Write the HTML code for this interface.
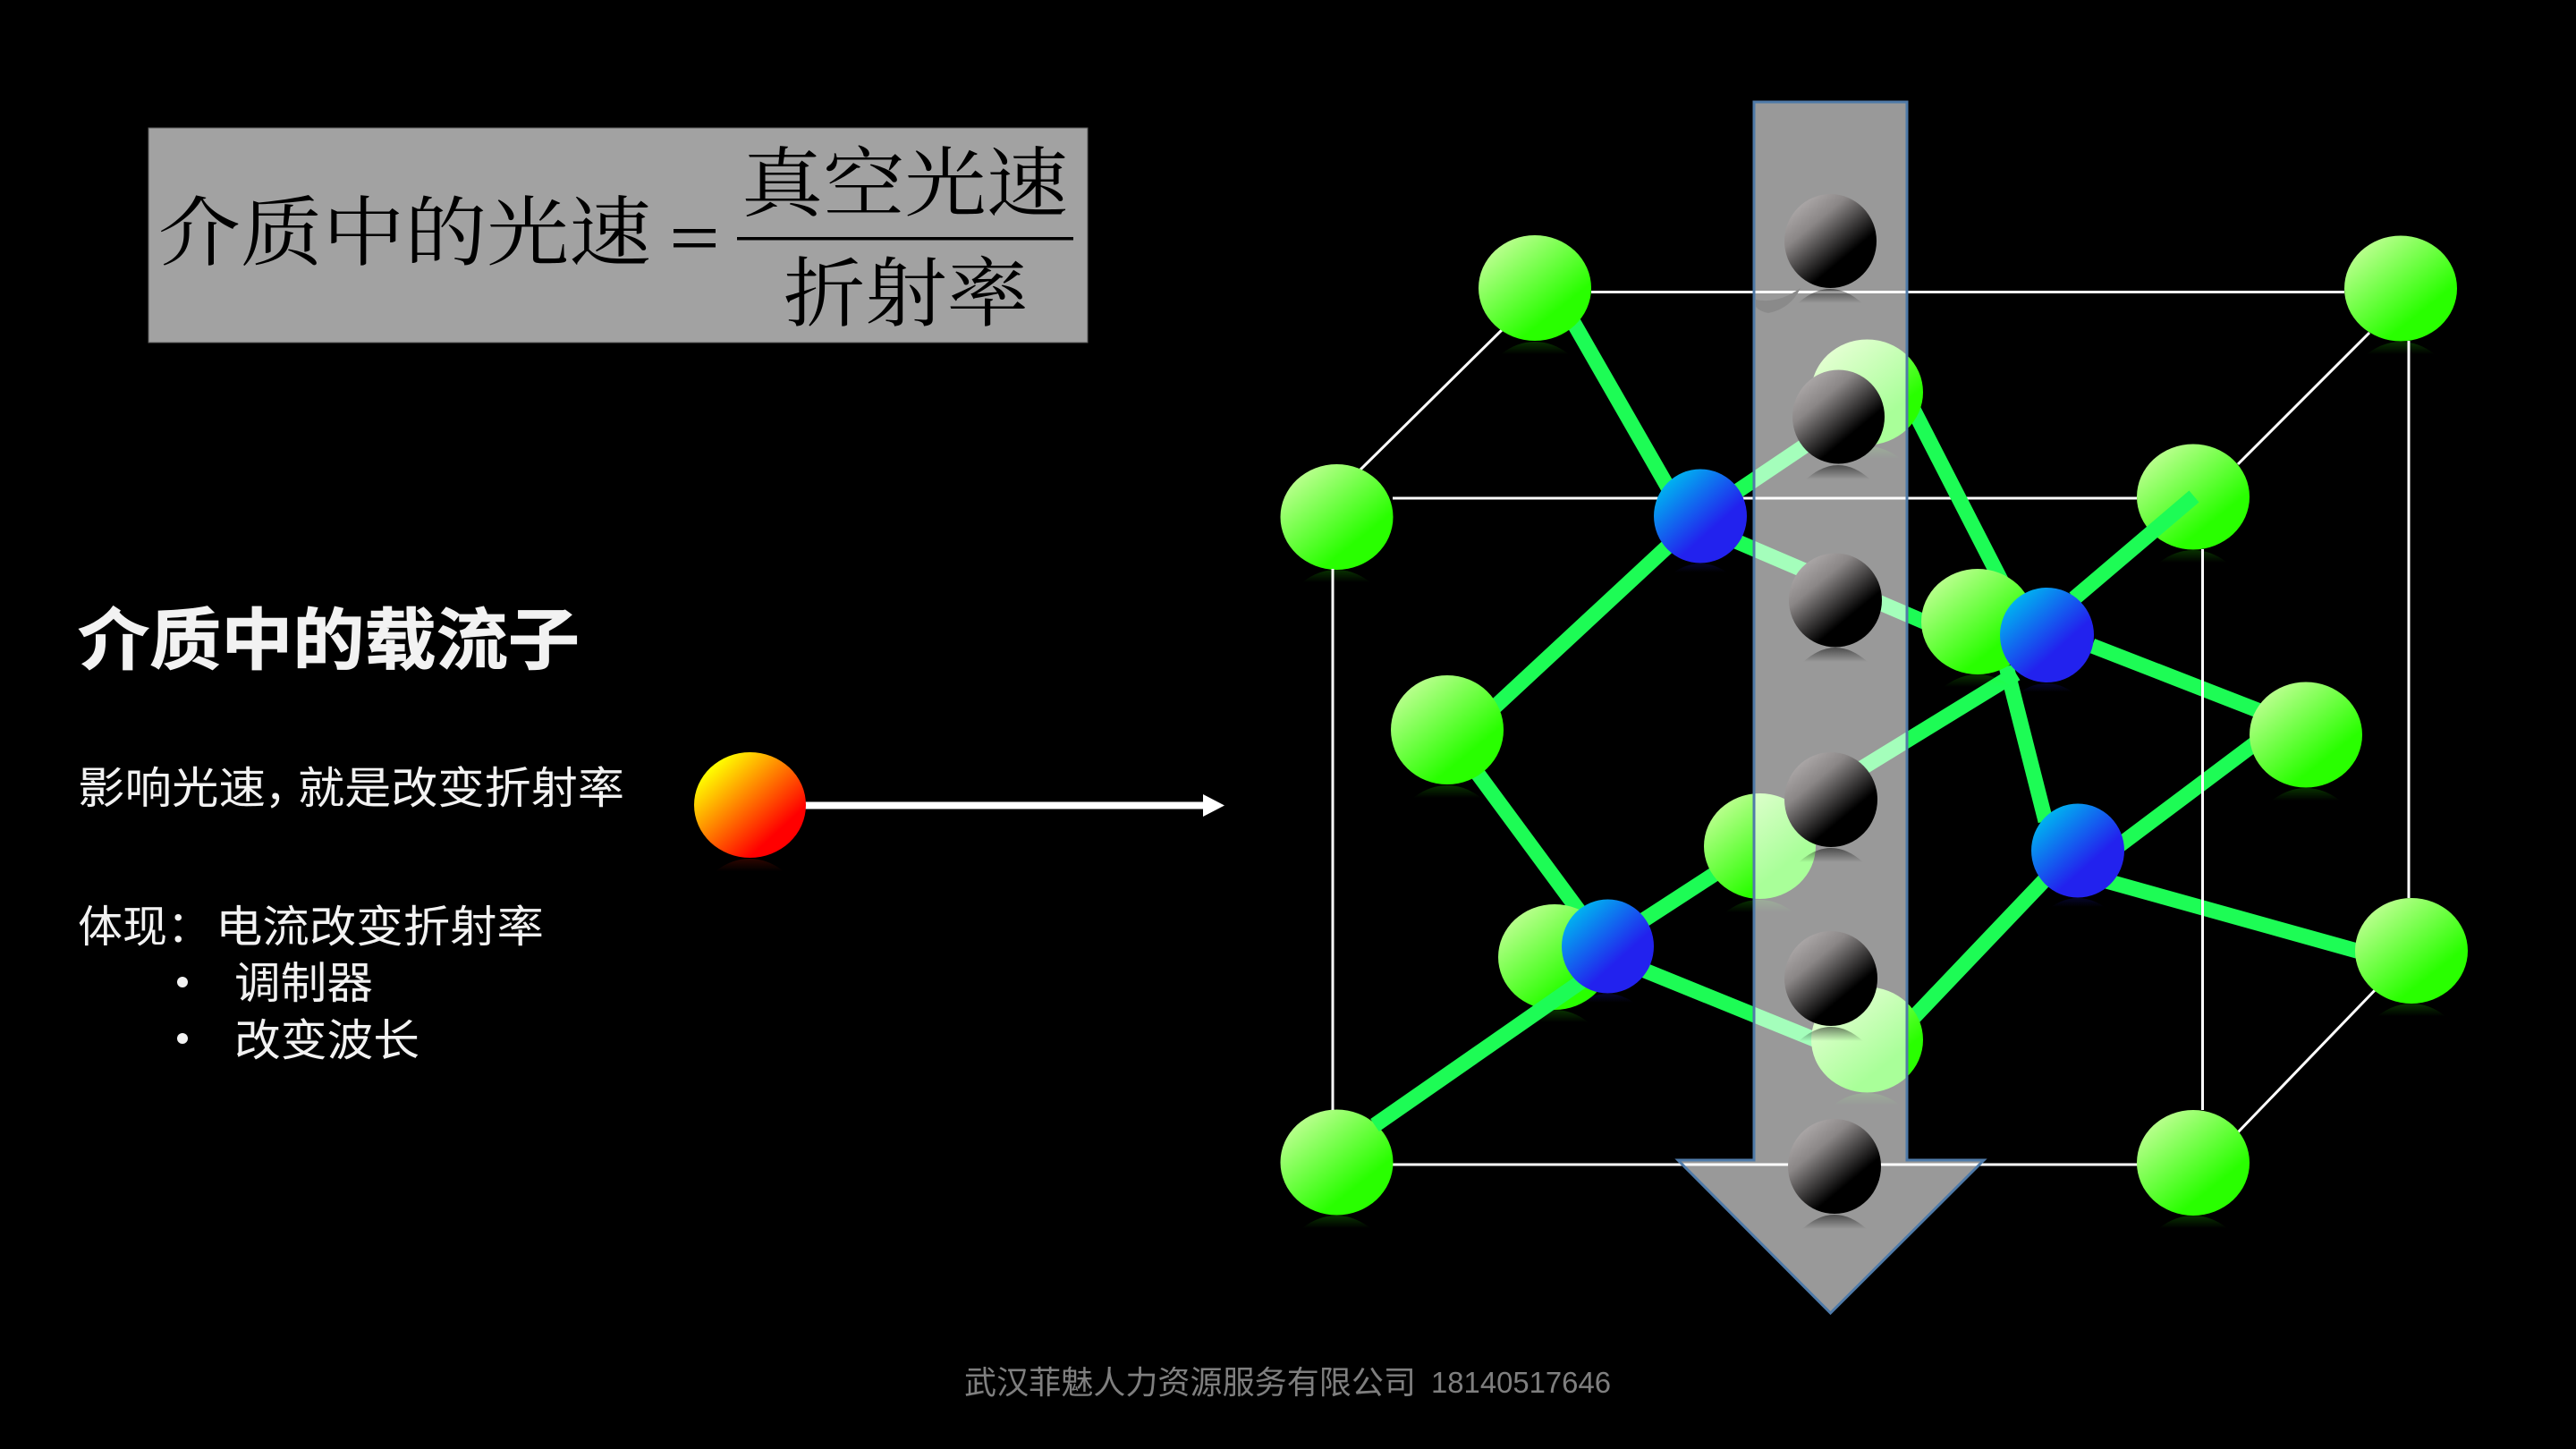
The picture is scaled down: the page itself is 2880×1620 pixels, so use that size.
<!DOCTYPE html>
<html lang="zh-CN">
<head>
<meta charset="utf-8">
<title>介质中的载流子</title>
<style>
html,body{margin:0;padding:0;background:#000;width:2880px;height:1620px;overflow:hidden}
svg{display:block}
.s{font-family:"Liberation Sans","Noto Sans CJK SC",sans-serif;fill:#f2f2f2}
.f{font-family:"Liberation Serif","Noto Serif CJK SC",serif;fill:#000}
.gl line{stroke:#1dfc55;stroke-width:17}
.wl line{stroke:#fff;stroke-width:3}
</style>
</head>
<body>
<svg width="2880" height="1620" viewBox="0 0 2880 1620" xmlns="http://www.w3.org/2000/svg">
<defs>
<linearGradient id="gr" x1="0.12" y1="0.1" x2="0.66" y2="0.74">
<stop offset="0" stop-color="#c0ff94"/><stop offset="1" stop-color="#29ff00"/>
</linearGradient>
<linearGradient id="bl" x1="0.15" y1="0.15" x2="0.6" y2="0.66">
<stop offset="0" stop-color="#00b0f0"/><stop offset="1" stop-color="#2222ee"/>
</linearGradient>
<linearGradient id="bk" x1="0.15" y1="0.12" x2="0.62" y2="0.7">
<stop offset="0" stop-color="#aba7a7"/><stop offset="0.35" stop-color="#8a8686"/><stop offset="1" stop-color="#000"/>
</linearGradient>
<linearGradient id="or" x1="0.15" y1="0.15" x2="0.74" y2="0.76">
<stop offset="0" stop-color="#ffff00"/><stop offset="1" stop-color="#ff0000"/>
</linearGradient>
<linearGradient id="rg" x1="0" y1="0" x2="0" y2="1">
<stop offset="0" stop-color="#29ff00" stop-opacity="0.2"/><stop offset="1" stop-color="#29ff00" stop-opacity="0"/>
</linearGradient>
<linearGradient id="rk" x1="0" y1="0" x2="0" y2="1">
<stop offset="0" stop-color="#000" stop-opacity="0.5"/><stop offset="1" stop-color="#000" stop-opacity="0"/>
</linearGradient>
<linearGradient id="rb" x1="0" y1="0" x2="0" y2="1">
<stop offset="0" stop-color="#2222ee" stop-opacity="0.18"/><stop offset="1" stop-color="#2222ee" stop-opacity="0"/>
</linearGradient>
<linearGradient id="ro" x1="0" y1="0" x2="0" y2="1">
<stop offset="0" stop-color="#ff2000" stop-opacity="0.18"/><stop offset="1" stop-color="#ff2000" stop-opacity="0"/>
</linearGradient>
<path id="rG" d="M-38,14 Q-20,0 0,0 Q20,0 38,14 Z" fill="url(#rg)"/>
<path id="rK" d="M-36,16 Q-18,0 0,0 Q18,0 36,16 Z" fill="url(#rk)"/>
<path id="rB" d="M-30,10 Q-15,0 0,0 Q15,0 30,10 Z" fill="url(#rb)"/>
<path id="rO" d="M-38,14 Q-20,0 0,0 Q20,0 38,14 Z" fill="url(#ro)"/>
</defs>

<rect width="2880" height="1620" fill="#000"/>

<!-- formula box -->
<rect x="166" y="143" width="1050" height="240" fill="#a2a2a2" stroke="#5a5a5a" stroke-width="1"/>
<text class="f" x="177" y="290" font-size="85" textLength="551" lengthAdjust="spacingAndGlyphs">介质中的光速</text>
<rect x="753" y="256" width="47" height="4.500" fill="#000"/>
<rect x="753" y="272" width="47" height="4.500" fill="#000"/>
<text class="f" x="829" y="235" font-size="85" textLength="365" lengthAdjust="spacingAndGlyphs">真空光速</text>
<rect x="824" y="265" width="376" height="3.500" fill="#000"/>
<text class="f" x="876" y="358" font-size="85" textLength="274" lengthAdjust="spacingAndGlyphs">折射率</text>

<!-- left text -->
<text class="s" x="87" y="742" font-size="75" font-weight="700" stroke="#f2f2f2" stroke-width="0.8" textLength="561" lengthAdjust="spacingAndGlyphs">介质中的载流子</text>
<text class="s" x="87" y="898" font-size="49" textLength="210" lengthAdjust="spacingAndGlyphs">影响光速</text>
<text class="s" x="296" y="898" font-size="49">，</text>
<text class="s" x="333" y="898" font-size="49" textLength="365" lengthAdjust="spacingAndGlyphs">就是改变折射率</text>
<text class="s" x="87" y="1053" font-size="49" textLength="100" lengthAdjust="spacingAndGlyphs">体现</text>
<text class="s" x="187" y="1053" font-size="49">：</text>
<text class="s" x="241" y="1053" font-size="49" textLength="367" lengthAdjust="spacingAndGlyphs">电流改变折射率</text>
<circle cx="204" cy="1098" r="6" fill="#f2f2f2"/>
<text class="s" x="262" y="1116" font-size="49" textLength="155" lengthAdjust="spacingAndGlyphs">调制器</text>
<circle cx="204" cy="1161" r="6" fill="#f2f2f2"/>
<text class="s" x="262" y="1180" font-size="49" textLength="207" lengthAdjust="spacingAndGlyphs">改变波长</text>

<!-- red ball and arrow -->
<use href="#rO" x="838" y="960"/>
<rect x="899" y="896.500" width="448" height="8" fill="#fff"/>
<polygon points="1345,888 1369,900.500 1345,913" fill="#fff"/>
<ellipse cx="838.500" cy="900" rx="62.500" ry="59" fill="url(#or)"/>

<!-- horizontal white lines and diagonals -->
<g class="wl">
<line x1="1779" y1="326.500" x2="2621" y2="326.500"/>
<line x1="1557" y1="557" x2="2389" y2="557"/>
<line x1="1557" y1="1302" x2="2390" y2="1302"/>
<line x1="1679" y1="369" x2="1521" y2="525"/>
<line x1="2649" y1="372" x2="2502" y2="519"/>
<line x1="2660" y1="1102" x2="2501" y2="1267"/>
</g>

<!-- green bonds beneath spheres -->
<g class="gl">
<line x1="1745" y1="336" x2="1885" y2="580"/>
<line x1="1901" y1="577" x2="1650" y2="810"/>
<line x1="1901" y1="577" x2="2060" y2="470"/>
<line x1="1901" y1="588" x2="2200" y2="716"/>
<line x1="2130" y1="440" x2="2270" y2="713"/>
<line x1="2339" y1="722" x2="2560" y2="808"/>
<line x1="2243" y1="745" x2="2287" y2="918"/>
<line x1="2047" y1="880" x2="2254" y2="753"/>
<line x1="2560" y1="802" x2="2323" y2="980"/>
<line x1="2300" y1="969" x2="2120" y2="1158"/>
<line x1="2330" y1="978" x2="2660" y2="1070"/>
<line x1="1630" y1="835" x2="1790" y2="1052"/>
<line x1="1797" y1="1055" x2="1965" y2="946"/>
<line x1="1797" y1="1068" x2="2090" y2="1187"/>
</g>

<!-- green spheres reflections -->
<use href="#rG" x="1716" y="382"/>
<use href="#rG" x="1494" y="637"/>
<use href="#rG" x="2684" y="382"/>
<use href="#rG" x="2452" y="615"/>
<use href="#rG" x="2211" y="754"/>
<use href="#rG" x="2578" y="881"/>
<use href="#rG" x="1618" y="878"/>
<use href="#rG" x="1738" y="1129"/>
<use href="#rG" x="1967" y="1006"/>
<use href="#rG" x="2087" y="1222"/>
<use href="#rG" x="1494" y="1359"/>
<use href="#rG" x="2452" y="1359"/>
<use href="#rG" x="2696" y="1122"/>
<use href="#rG" x="2087" y="499"/>

<!-- green spheres -->
<ellipse cx="1716" cy="322" rx="63" ry="59" fill="url(#gr)"/>
<ellipse cx="1494.500" cy="578" rx="63" ry="59" fill="url(#gr)"/>
<ellipse cx="2684" cy="322.500" rx="63" ry="59" fill="url(#gr)"/>
<ellipse cx="2452" cy="555.500" rx="63" ry="59" fill="url(#gr)"/>
<ellipse cx="2211" cy="695" rx="63" ry="59" fill="url(#gr)"/>
<ellipse cx="2578" cy="821.500" rx="63" ry="59" fill="url(#gr)"/>
<ellipse cx="1618" cy="816" rx="63" ry="61" fill="url(#gr)"/>
<ellipse cx="1738" cy="1070" rx="63" ry="59" fill="url(#gr)"/>
<ellipse cx="1967.500" cy="946" rx="62.500" ry="59" fill="url(#gr)"/>
<ellipse cx="2087.500" cy="1162.500" rx="62.500" ry="59" fill="url(#gr)"/>
<ellipse cx="2087.500" cy="438.500" rx="62.500" ry="59" fill="url(#gr)"/>
<ellipse cx="1494.500" cy="1299.500" rx="63" ry="59" fill="url(#gr)"/>
<ellipse cx="2452" cy="1300" rx="63" ry="59" fill="url(#gr)"/>
<ellipse cx="2696" cy="1063" rx="63" ry="59" fill="url(#gr)"/>

<!-- bonds over green spheres -->
<g class="gl">
<line x1="2319" y1="669" x2="2453" y2="555"/>
<line x1="1537" y1="1258" x2="1790" y2="1082"/>
</g>

<!-- vertical white lines -->
<g class="wl">
<line x1="1490" y1="636" x2="1490" y2="1241"/>
<line x1="2462.500" y1="614" x2="2462.500" y2="1241"/>
<line x1="2693" y1="381" x2="2693" y2="1004"/>
</g>

<!-- blue spheres -->
<use href="#rB" x="1901" y="630"/>
<use href="#rB" x="1797" y="1111"/>
<use href="#rB" x="2288" y="764"/>
<use href="#rB" x="2323" y="1004"/>
<ellipse cx="1901" cy="577" rx="52" ry="52.500" fill="url(#bl)"/>
<ellipse cx="1797.500" cy="1058" rx="51.500" ry="52.500" fill="url(#bl)"/>
<ellipse cx="2288.500" cy="710" rx="52.500" ry="53" fill="url(#bl)"/>
<ellipse cx="2323" cy="951" rx="52" ry="52.500" fill="url(#bl)"/>

<!-- big translucent arrow -->
<polygon points="1961,114 2132,114 2132,1297 2218,1297 2046.500,1468 1876,1297 1961,1297" fill="#fff" fill-opacity="0.6" stroke="#4f7aa8" stroke-width="3"/>
<path d="M1963,335 Q1988,340 2013,322 Q2002,345 1977,350 Q1967,348 1963,343 Z" fill="#8a8a8a"/>

<!-- black spheres -->
<use href="#rK" x="2046" y="323"/>
<use href="#rK" x="2055" y="520"/>
<use href="#rK" x="2052" y="724"/>
<use href="#rK" x="2047" y="948"/>
<use href="#rK" x="2047" y="1148"/>
<use href="#rK" x="2051" y="1358"/>
<ellipse cx="2046.500" cy="269.500" rx="51.500" ry="52.500" fill="url(#bk)"/>
<ellipse cx="2055.500" cy="466" rx="51.500" ry="52.500" fill="url(#bk)"/>
<ellipse cx="2052" cy="671" rx="52" ry="52.500" fill="url(#bk)"/>
<ellipse cx="2047" cy="894" rx="52" ry="53" fill="url(#bk)"/>
<ellipse cx="2047" cy="1094" rx="52" ry="53" fill="url(#bk)"/>
<ellipse cx="2051" cy="1304" rx="52" ry="53" fill="url(#bk)"/>

<!-- footer -->
<text x="1078" y="1558" font-size="36" fill="#7f7f7f" font-family="'Liberation Sans','Noto Sans CJK SC',sans-serif" textLength="505" lengthAdjust="spacingAndGlyphs">武汉菲魅人力资源服务有限公司</text>
<text x="1600" y="1557" font-size="33" fill="#7f7f7f" font-family="'Liberation Sans','Noto Sans CJK SC',sans-serif" textLength="201" lengthAdjust="spacingAndGlyphs">18140517646</text>
</svg>
</body>
</html>
